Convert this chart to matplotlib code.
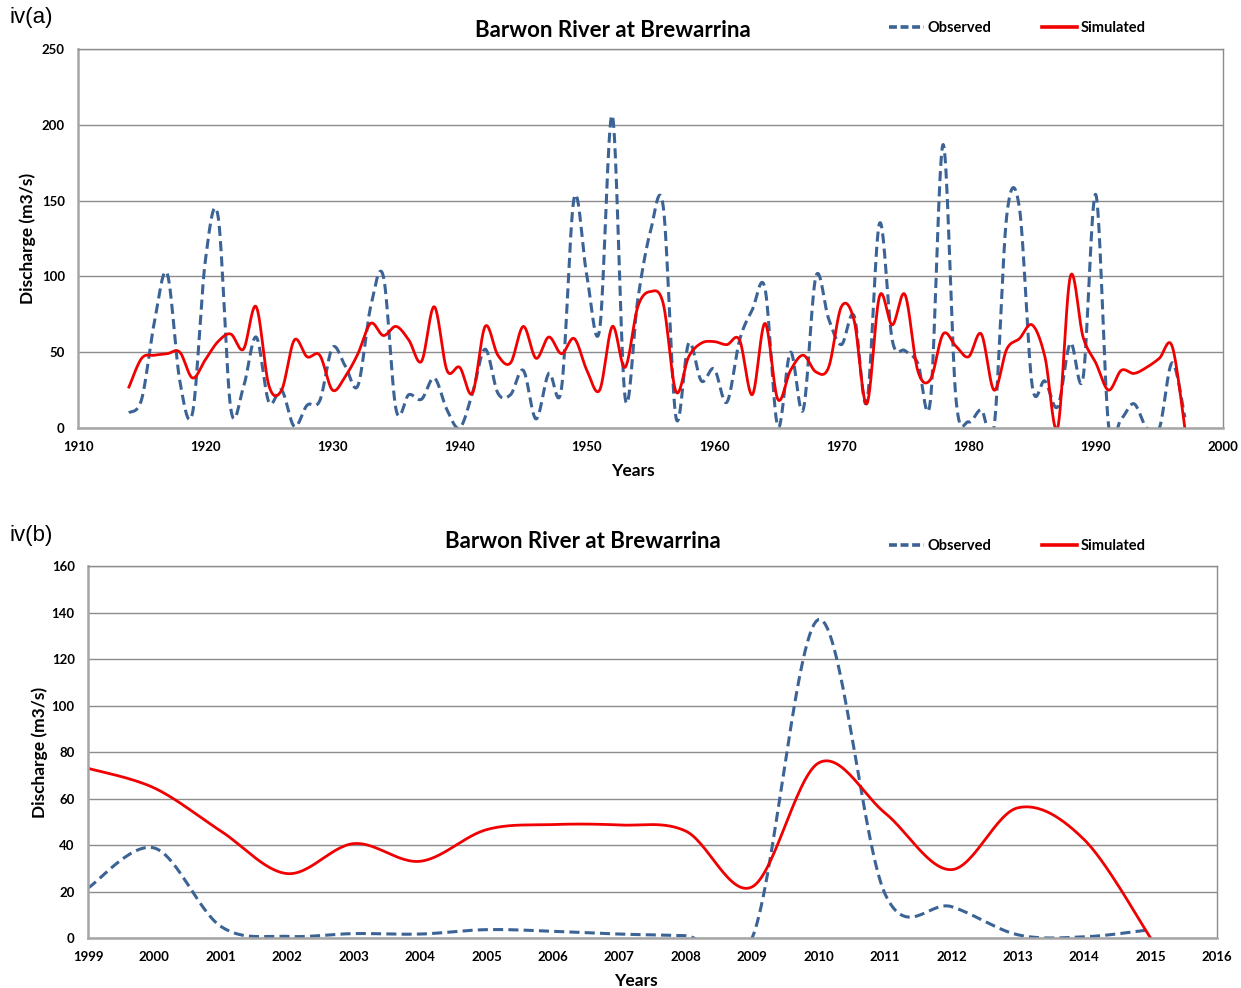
import matplotlib
matplotlib.use("Agg")
import matplotlib.pyplot as plt
import numpy as np

plt.rcParams['font.family'] = ['Lato', 'DejaVu Sans']

# annual mean discharge, panel iv(a)
years_a = np.arange(1914, 1998)
obs_a = [10, 19, 70, 102, 31, 10, 110, 140, 13, 27, 60, 17, 25, 1, 15, 18, 53, 41, 28, 80,
         100, 12, 22, 19, 33, 12, 0, 23, 52, 23, 22, 38, 6, 36, 26, 152, 100, 65, 206, 20,
         85, 130, 146, 7, 56, 31, 39, 17, 58, 78, 92, 1, 50, 12, 100, 72, 55, 74, 17, 135,
         58, 51, 43, 18, 187, 20, 4, 12, 0, 140, 145, 28, 31, 14, 56, 33, 154, 2, 6, 16,
         0, 0, 43, 7]
sim_a = [27, 46, 48, 49, 50, 33, 45, 57, 62, 52, 80, 28, 25, 58, 47, 48, 25, 34, 49, 69,
         61, 67, 58, 44, 80, 38, 40, 23, 67, 48, 43, 67, 46, 60, 49, 59, 38, 25, 67, 40,
         80, 90, 82, 24, 47, 56, 57, 55, 58, 22, 69, 19, 38, 48, 37, 40, 80, 71, 16, 87,
         68, 88, 38, 32, 62, 54, 47, 62, 25, 52, 59, 68, 47, 0, 100, 60, 43, 25, 38, 36,
         40, 46, 54, 0]

# panel iv(b)
years_b = np.arange(1999, 2016)
obs_b = [21.5, 38.7, 5, 0.7, 1.9, 1.7, 3.6, 2.9, 1.7, 1, 0, 137, 19, 13.5, 1.4, 0.5, 3.6]
sim_b = [73, 64.5, 46, 27.7, 40.6, 33, 46.6, 48.8, 48.6, 46, 22, 75.3, 53.8, 29.4, 56, 42.3, 0]

blue = '#3b6395'
red = '#f00000'
grid_c = '#8c8c8c'


def smooth(x, y, n=30):
    # excel style smoothed line: bezier through points, catmull-rom handles
    P = np.column_stack([x, y]).astype(float)
    Pp = np.vstack([P[:1], P, P[-1:]])
    t = np.linspace(0, 1, n, endpoint=False)[:, None]
    out = []
    for i in range(len(P) - 1):
        p0, p3 = P[i], P[i + 1]
        c1 = p0 + (p3 - Pp[i]) / 6
        c2 = p3 - (Pp[i + 3] - p0) / 6
        out.append((1 - t)**3 * p0 + 3 * (1 - t)**2 * t * c1 + 3 * (1 - t) * t**2 * c2 + t**3 * p3)
    out.append(P[-1:])
    pts = np.vstack(out)
    return pts[:, 0], pts[:, 1]


def style_axes(ax, xlab_y):
    ax.grid(axis='y', color=grid_c, lw=1)
    ax.set_axisbelow(True)
    for s in ax.spines.values():
        s.set_color(grid_c)
        s.set_linewidth(1)
    for s in ('left', 'bottom'):
        ax.spines[s].set_color('#a6a6a6')
        ax.spines[s].set_linewidth(1.8)
    ax.tick_params(axis='both', length=0, labelsize=9.5, pad=9.5)
    for lab in ax.get_xticklabels() + ax.get_yticklabels():
        lab.set_fontweight('bold')
    ax.set_xlabel('Years', fontsize=12.5, fontweight='bold')
    ax.xaxis.set_label_coords(0.485, xlab_y)
    ax.set_ylabel('Discharge (m3/s)', fontsize=12.5, fontweight='bold')


fig = plt.figure(figsize=(12.41, 9.88), dpi=100)

# ---- iv(a)
ax1 = fig.add_axes([0.0629, 0.5668, 0.9226, 0.3836])
ax1.plot(*smooth(years_a, obs_a), color=blue, lw=2.2, ls=(0, (3.3, 1.7)), dash_capstyle='butt')
ax1.plot(*smooth(years_a, sim_a), color=red, lw=2.0)
ax1.set_xlim(1910, 2000)
ax1.set_ylim(0, 250)
ax1.set_xticks(np.arange(1910, 2001, 10))
ax1.set_yticks(np.arange(0, 251, 50))
style_axes(ax1, -0.092)
ax1.yaxis.set_label_coords(-0.0367, 0.5)

# ---- iv(b)
ax2 = fig.add_axes([0.0709, 0.0506, 0.9098, 0.3765])
ax2.plot(*smooth(years_b, obs_b), color=blue, lw=2.2, ls=(0, (3.3, 1.7)), dash_capstyle='butt')
ax2.plot(*smooth(years_b, sim_b), color=red, lw=2.0)
ax2.set_xlim(1999, 2016)
ax2.set_ylim(0, 160)
ax2.set_xticks(np.arange(1999, 2017, 1))
ax2.set_yticks(np.arange(0, 161, 20))
style_axes(ax2, -0.094)
ax2.yaxis.set_label_coords(-0.0354, 0.5)

# titles, panel tags, legends
for tag, ty, tx, tagy, ly in [('iv(a)', 0.9696, 0.494, 0.982, 0.9717),
                              ('iv(b)', 0.4524, 0.470, 0.458, 0.4474)]:
    fig.text(tx, ty, 'Barwon River at Brewarrina', ha='center', va='center',
             fontsize=16, fontweight='bold')
    fig.text(0.008, tagy, tag, ha='left', va='center', fontsize=16, family='Liberation Sans')
    h1 = plt.Line2D([], [], color=blue, lw=2.6, ls=(0, (2.2, 1.0)))
    h2 = plt.Line2D([], [], color=red, lw=2.6)
    fig.legend([h1, h2], ['Observed', 'Simulated'], loc='center left',
               bbox_to_anchor=(0.716, ly),
               ncol=2, frameon=False, handlelength=2.4, handletextpad=0.25,
               columnspacing=3.5, borderpad=0, borderaxespad=0,
               prop={'weight': 'bold', 'size': 10.5})

fig.savefig('out.png', dpi=100)
